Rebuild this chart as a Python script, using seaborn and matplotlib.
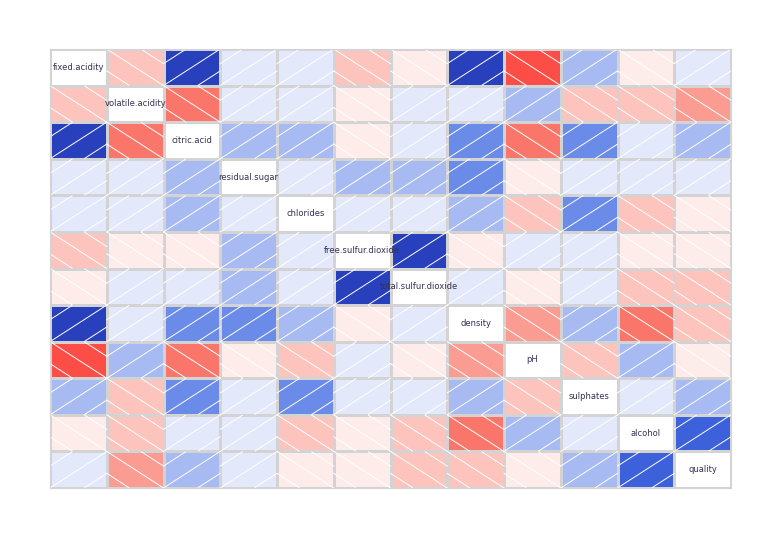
import numpy as np
import pandas as pd
import matplotlib
matplotlib.use("Agg")
import matplotlib.pyplot as plt
from matplotlib.colors import LinearSegmentedColormap, ListedColormap
import seaborn as sns

## variables and correlations (red wine quality)

names = ["fixed.acidity", "volatile.acidity", "citric.acid", "residual.sugar", "chlorides",
         "free.sulfur.dioxide", "total.sulfur.dioxide", "density", "pH", "sulphates",
         "alcohol", "quality"]
corr = [
    [1, -0.256, 0.672, 0.115, 0.094, -0.154, -0.113, 0.668, -0.683, 0.183, -0.062, 0.124],
    [-0.256, 1, -0.552, 0.002, 0.061, -0.011, 0.076, 0.022, 0.235, -0.261, -0.202, -0.391],
    [0.672, -0.552, 1, 0.144, 0.204, -0.061, 0.036, 0.365, -0.542, 0.313, 0.110, 0.226],
    [0.115, 0.002, 0.144, 1, 0.056, 0.187, 0.203, 0.355, -0.086, 0.006, 0.042, 0.014],
    [0.094, 0.061, 0.204, 0.056, 1, 0.006, 0.047, 0.201, -0.265, 0.371, -0.221, -0.129],
    [-0.154, -0.011, -0.061, 0.187, 0.006, 1, 0.668, -0.022, 0.070, 0.052, -0.069, -0.051],
    [-0.113, 0.076, 0.036, 0.203, 0.047, 0.668, 1, 0.071, -0.066, 0.043, -0.206, -0.185],
    [0.668, 0.022, 0.365, 0.355, 0.201, -0.022, 0.071, 1, -0.342, 0.149, -0.496, -0.175],
    [-0.683, 0.235, -0.542, -0.086, -0.265, 0.070, -0.066, -0.342, 1, -0.197, 0.206, -0.058],
    [0.183, -0.261, 0.313, 0.006, 0.371, 0.052, 0.043, 0.149, -0.197, 1, 0.094, 0.251],
    [-0.062, -0.202, 0.110, 0.042, -0.221, -0.069, -0.206, -0.496, 0.206, 0.094, 1, 0.476],
    [0.124, -0.391, 0.226, 0.014, -0.129, -0.051, -0.185, -0.175, -0.058, 0.251, 0.476, 1],
]
df = pd.DataFrame(corr, index=names, columns=names)
n = len(names)

## corrgram-style palette, 14 bins

ramp = LinearSegmentedColormap.from_list("cg", ["red", "salmon", "white", "royalblue", "navy"])
cmap = ListedColormap([ramp(i / 13) for i in range(14)])

fig = plt.figure(figsize=(7.82, 5.39), dpi=100)
ax = fig.add_axes([50 / 782, 51 / 539, 681 / 782, 439 / 539])
mask = np.eye(n, dtype=bool)
sns.heatmap(df, mask=mask, cmap=cmap, vmin=-1, vmax=1, cbar=False, ax=ax,
            linewidths=0.8, linecolor="#d3d3d3", xticklabels=False, yticklabels=False)

# white shading lines: "/" for positive, "\" for negative
for i in range(n):
    for j in range(n):
        if i == j:
            continue
        r = df.iloc[i, j]
        for off in (-0.6, 0.0, 0.6):
            t = np.linspace(0, 1, 50)
            xs = j + t
            ys = i + 1 - t + off if r > 0 else i + t + off
            ok = (ys >= i) & (ys <= i + 1)
            ax.plot(xs[ok], ys[ok], color="white", lw=0.7)

for k, name in enumerate(names):
    ax.text(k + 0.5, k + 0.5, name, ha="center", va="center", fontsize=6, color="#333355",
            clip_on=True)

for s in ax.spines.values():
    s.set_visible(True)
    s.set_color("#d3d3d3")

fig.savefig("out.png", dpi=100)
